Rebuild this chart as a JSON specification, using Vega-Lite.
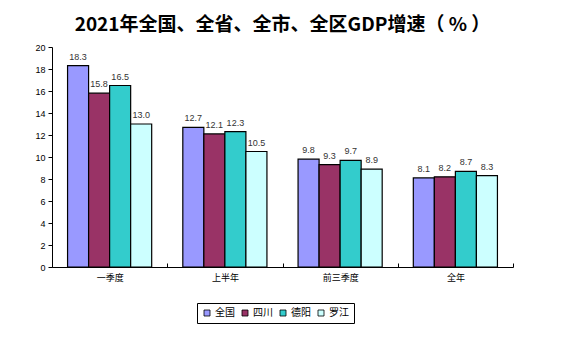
{
  "$schema": "https://vega.github.io/schema/vega-lite/v6.json",
  "width": 461,
  "height": 220,
  "autosize": {"type": "none"},
  "padding": {"left": 52, "top": 47, "right": 50, "bottom": 87},
  "background": "white",
  "title": {
    "text": "2021年全国、全省、全市、全区GDP增速（ % ）",
    "font": "Noto Sans CJK SC",
    "fontSize": 19,
    "fontWeight": "bold",
    "color": "black",
    "anchor": "middle",
    "offset": 8
  },
  "data": {
    "values": [
      {"period": "一季度", "region": "全国", "value": 18.3},
      {"period": "一季度", "region": "四川", "value": 15.8},
      {"period": "一季度", "region": "德阳", "value": 16.5},
      {"period": "一季度", "region": "罗江", "value": 13.0},
      {"period": "上半年", "region": "全国", "value": 12.7},
      {"period": "上半年", "region": "四川", "value": 12.1},
      {"period": "上半年", "region": "德阳", "value": 12.3},
      {"period": "上半年", "region": "罗江", "value": 10.5},
      {"period": "前三季度", "region": "全国", "value": 9.8},
      {"period": "前三季度", "region": "四川", "value": 9.3},
      {"period": "前三季度", "region": "德阳", "value": 9.7},
      {"period": "前三季度", "region": "罗江", "value": 8.9},
      {"period": "全年", "region": "全国", "value": 8.1},
      {"period": "全年", "region": "四川", "value": 8.2},
      {"period": "全年", "region": "德阳", "value": 8.7},
      {"period": "全年", "region": "罗江", "value": 8.3}
    ]
  },
  "encoding": {
    "x": {
      "field": "period",
      "type": "nominal",
      "sort": ["一季度", "上半年", "前三季度", "全年"],
      "scale": {"paddingInner": 0, "paddingOuter": 0},
      "axis": {
        "title": null,
        "labelAngle": 0,
        "tickBand": "extent",
        "tickSize": -4,
        "tickColor": "black",
        "domainColor": "black",
        "labelFont": "Noto Sans CJK SC",
        "labelFontSize": 9,
        "labelColor": "black",
        "labelPadding": 10
      }
    },
    "xOffset": {
      "field": "region",
      "type": "nominal",
      "sort": ["全国", "四川", "德阳", "罗江"],
      "scale": {"paddingInner": 0, "paddingOuter": 0.74}
    },
    "y": {
      "field": "value",
      "type": "quantitative",
      "scale": {"domain": [0, 20]},
      "axis": {
        "title": null,
        "values": [0, 2, 4, 6, 8, 10, 12, 14, 16, 18, 20],
        "grid": false,
        "tickColor": "black",
        "domainColor": "black",
        "tickSize": 4,
        "labelFont": "Liberation Sans",
        "labelFontSize": 9,
        "labelColor": "black",
        "labelPadding": 3
      }
    }
  },
  "layer": [
    {
      "mark": {"type": "bar", "stroke": "black", "strokeWidth": 1.2},
      "encoding": {
        "color": {
          "field": "region",
          "type": "nominal",
          "sort": ["全国", "四川", "德阳", "罗江"],
          "scale": {
            "domain": ["全国", "四川", "德阳", "罗江"],
            "range": ["#9999FF", "#993366", "#33CCCC", "#CCFFFF"]
          },
          "legend": {
            "title": null,
            "orient": "none",
            "legendX": 145,
            "legendY": 256,
            "direction": "horizontal",
            "symbolType": "square",
            "symbolSize": 36,
            "symbolStrokeColor": "black",
            "symbolStrokeWidth": 0.8,
            "labelFont": "Noto Sans CJK SC",
            "labelFontSize": 10,
            "labelColor": "black",
            "columnPadding": 5,
            "labelOffset": 3,
            "strokeColor": "black",
            "padding": 5,
            "fillColor": "white"
          }
        }
      }
    },
    {
      "mark": {
        "type": "text",
        "baseline": "bottom",
        "dy": -4,
        "font": "Liberation Sans",
        "fontSize": 9,
        "color": "#333333"
      },
      "encoding": {
        "text": {"field": "value", "type": "quantitative", "format": ".1f"}
      }
    }
  ],
  "config": {"view": {"stroke": null}}
}
